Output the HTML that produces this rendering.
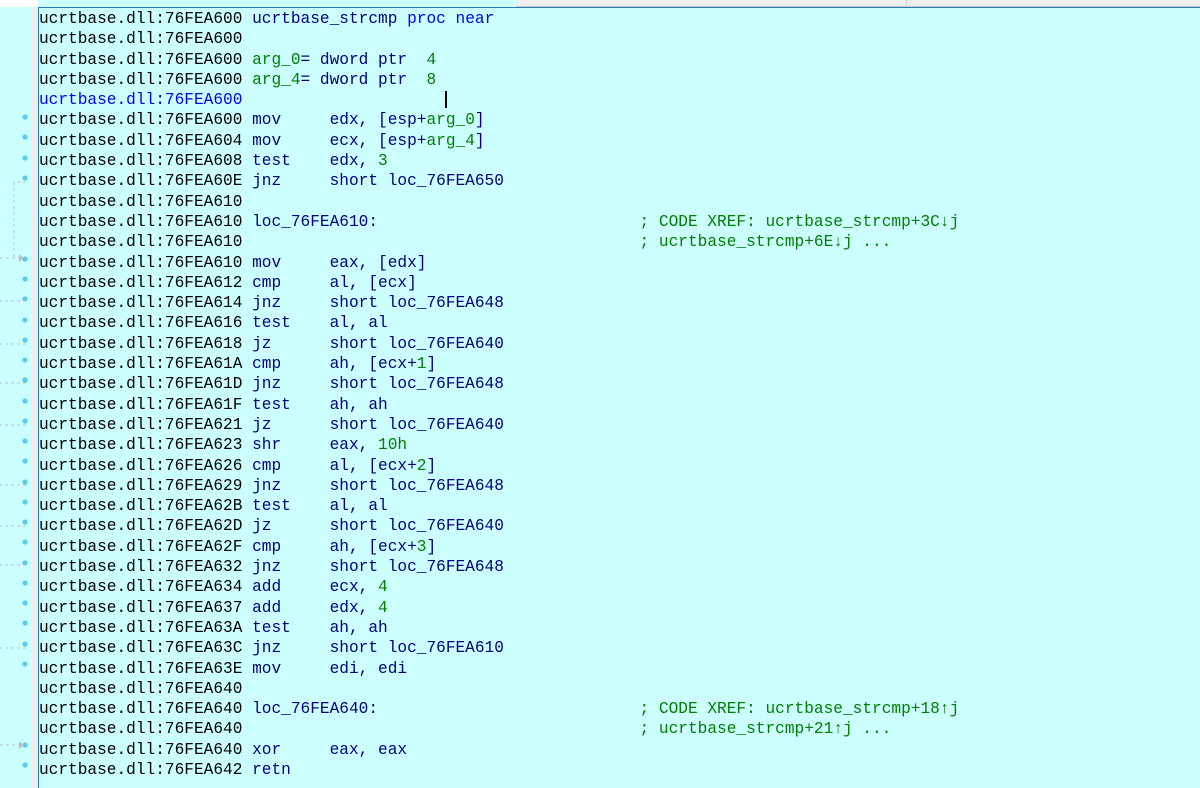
<!DOCTYPE html>
<html><head><meta charset="utf-8"><style>
html,body{margin:0;padding:0;}
body{width:1200px;height:788px;background:#ccffff;position:relative;overflow:hidden;}
#top1{position:absolute;left:0;top:0;width:38px;height:7px;background:#fff;}
#top2{position:absolute;left:38px;top:0;width:478px;height:7px;background:#ccffff;}
#top3{position:absolute;left:516px;top:0;width:684px;height:6px;background:#eeeeee;border-bottom:1px solid #c8c8c8;}
#topsep{position:absolute;left:906px;top:0;width:1px;height:6px;background:#d8d8d8;}
#topline{position:absolute;left:38px;top:7px;width:1162px;height:1px;background:#2a7ab8;}
#strip{position:absolute;left:32px;top:7px;width:6px;height:781px;background:#eeeeee;}
#vline{position:absolute;left:38px;top:7px;width:1px;height:781px;background:#2a7ab8;}
#code{position:absolute;left:39px;top:9px;margin:0;font-family:"Liberation Mono",monospace;font-size:16.15px;line-height:20.3px;color:#000;white-space:pre;}
.n{color:#000080}.g{color:#008000}.b{color:#0000ff}
#cursor{position:absolute;left:445px;top:91px;width:1.5px;height:17px;background:#000;}
svg{position:absolute;left:0;top:0;}
</style></head><body>
<div id="top1"></div><div id="top2"></div><div id="top3"></div><div id="topsep"></div>
<div id="strip"></div><div id="topline"></div><div id="vline"></div>
<svg width="38" height="788">
<g fill="#5cc8f5">
<circle cx="25" cy="117" r="2.6"/><circle cx="25" cy="137" r="2.6"/><circle cx="25" cy="158" r="2.6"/><circle cx="25" cy="178" r="2.6"/>
<circle cx="25" cy="259" r="2.6"/><circle cx="25" cy="279" r="2.6"/><circle cx="25" cy="299" r="2.6"/><circle cx="25" cy="320" r="2.6"/>
<circle cx="25" cy="340" r="2.6"/><circle cx="25" cy="360" r="2.6"/><circle cx="25" cy="380" r="2.6"/><circle cx="25" cy="401" r="2.6"/>
<circle cx="25" cy="421" r="2.6"/><circle cx="25" cy="441" r="2.6"/><circle cx="25" cy="461" r="2.6"/><circle cx="25" cy="482" r="2.6"/>
<circle cx="25" cy="502" r="2.6"/><circle cx="25" cy="522" r="2.6"/><circle cx="25" cy="542" r="2.6"/><circle cx="25" cy="563" r="2.6"/>
<circle cx="25" cy="583" r="2.6"/><circle cx="25" cy="603" r="2.6"/><circle cx="25" cy="623" r="2.6"/><circle cx="25" cy="644" r="2.6"/>
<circle cx="25" cy="664" r="2.6"/><circle cx="25" cy="745" r="2.6"/><circle cx="25" cy="765" r="2.6"/>
</g>
<g stroke="#c0c0c0" stroke-width="1" stroke-dasharray="3,3" fill="none">
<path d="M26 182 H14 V260"/>
<path d="M0 258 H20"/>
<path d="M26 301 H0"/><path d="M26 344 H0"/><path d="M26 383 H0"/><path d="M26 425 H0"/>
<path d="M26 485 H0"/><path d="M26 526 H0"/><path d="M26 565 H0"/><path d="M26 648 H0"/>
<path d="M0 745 H20"/>
</g>
<path d="M19 254 L24 258 L19 262 Z" fill="#c0c0c0"/>
<path d="M19 741 L24 745 L19 749 Z" fill="#c0c0c0"/>
</svg>
<div id="cursor"></div>
<pre id="code">ucrtbase.dll:76FEA600 <span class="n">ucrtbase_strcmp</span> <span class="b">proc near</span>
ucrtbase.dll:76FEA600
ucrtbase.dll:76FEA600 <span class="g">arg_0</span><span class="n">= dword ptr </span> <span class="g">4</span>
ucrtbase.dll:76FEA600 <span class="g">arg_4</span><span class="n">= dword ptr </span> <span class="g">8</span>
<span class="b">ucrtbase.dll:76FEA600</span>
ucrtbase.dll:76FEA600 <span class="n">mov     edx, [esp+</span><span class="g">arg_0</span><span class="n">]</span>
ucrtbase.dll:76FEA604 <span class="n">mov     ecx, [esp+</span><span class="g">arg_4</span><span class="n">]</span>
ucrtbase.dll:76FEA608 <span class="n">test    edx, </span><span class="g">3</span>
ucrtbase.dll:76FEA60E <span class="n">jnz     short loc_76FEA650</span>
ucrtbase.dll:76FEA610
ucrtbase.dll:76FEA610 <span class="n">loc_76FEA610:</span>                           <span class="g">; CODE XREF: ucrtbase_strcmp+3C↓j</span>
ucrtbase.dll:76FEA610                                         <span class="g">; ucrtbase_strcmp+6E↓j ...</span>
ucrtbase.dll:76FEA610 <span class="n">mov     eax, [edx]</span>
ucrtbase.dll:76FEA612 <span class="n">cmp     al, [ecx]</span>
ucrtbase.dll:76FEA614 <span class="n">jnz     short loc_76FEA648</span>
ucrtbase.dll:76FEA616 <span class="n">test    al, al</span>
ucrtbase.dll:76FEA618 <span class="n">jz      short loc_76FEA640</span>
ucrtbase.dll:76FEA61A <span class="n">cmp     ah, [ecx+</span><span class="g">1</span><span class="n">]</span>
ucrtbase.dll:76FEA61D <span class="n">jnz     short loc_76FEA648</span>
ucrtbase.dll:76FEA61F <span class="n">test    ah, ah</span>
ucrtbase.dll:76FEA621 <span class="n">jz      short loc_76FEA640</span>
ucrtbase.dll:76FEA623 <span class="n">shr     eax, </span><span class="g">10h</span>
ucrtbase.dll:76FEA626 <span class="n">cmp     al, [ecx+</span><span class="g">2</span><span class="n">]</span>
ucrtbase.dll:76FEA629 <span class="n">jnz     short loc_76FEA648</span>
ucrtbase.dll:76FEA62B <span class="n">test    al, al</span>
ucrtbase.dll:76FEA62D <span class="n">jz      short loc_76FEA640</span>
ucrtbase.dll:76FEA62F <span class="n">cmp     ah, [ecx+</span><span class="g">3</span><span class="n">]</span>
ucrtbase.dll:76FEA632 <span class="n">jnz     short loc_76FEA648</span>
ucrtbase.dll:76FEA634 <span class="n">add     ecx, </span><span class="g">4</span>
ucrtbase.dll:76FEA637 <span class="n">add     edx, </span><span class="g">4</span>
ucrtbase.dll:76FEA63A <span class="n">test    ah, ah</span>
ucrtbase.dll:76FEA63C <span class="n">jnz     short loc_76FEA610</span>
ucrtbase.dll:76FEA63E <span class="n">mov     edi, edi</span>
ucrtbase.dll:76FEA640
ucrtbase.dll:76FEA640 <span class="n">loc_76FEA640:</span>                           <span class="g">; CODE XREF: ucrtbase_strcmp+18↑j</span>
ucrtbase.dll:76FEA640                                         <span class="g">; ucrtbase_strcmp+21↑j ...</span>
ucrtbase.dll:76FEA640 <span class="n">xor     eax, eax</span>
ucrtbase.dll:76FEA642 <span class="n">retn</span></pre>
</body></html>
